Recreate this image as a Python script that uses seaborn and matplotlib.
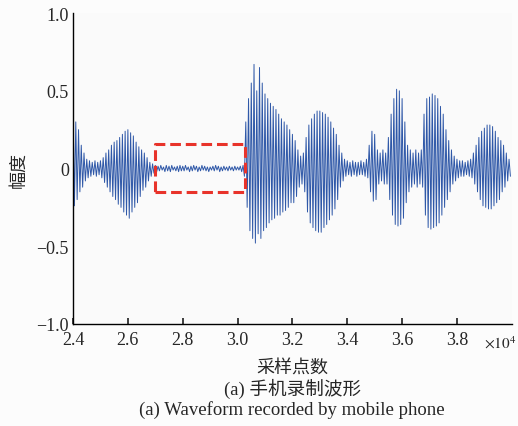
import numpy as np
import pandas as pd
import matplotlib.pyplot as plt
import seaborn as sns

# waveform: one positive and one negative peak
# per 100 samples, starting at sample 24000
start_sample = 24000
step = 100
upper_peaks = [
    0.39, 0.30, 0.25, 0.15, 0.10, 0.06, 0.05, 0.04, 0.05, 0.04,
    0.05, 0.07, 0.10, 0.12, 0.15, 0.17, 0.18, 0.20, 0.22, 0.24,
    0.25, 0.23, 0.21, 0.17, 0.14, 0.12, 0.10, 0.07, 0.04, 0.03,
    0.02, 0.015, 0.02, 0.01, 0.02, 0.015, 0.02, 0.01, 0.015, 0.02,
    0.015, 0.02, 0.01, 0.015, 0.02, 0.015, 0.01, 0.02, 0.015, 0.01,
    0.01, 0.015, 0.02, 0.015, 0.01, 0.015, 0.01, 0.015, 0.01, 0.015,
    0.01, 0.015, 0.02, 0.30, 0.45, 0.55, 0.67, 0.50, 0.65, 0.55,
    0.48, 0.45, 0.42, 0.40, 0.38, 0.35, 0.32, 0.30, 0.28, 0.25,
    0.22, 0.18, 0.12, 0.08, 0.10, 0.20, 0.28, 0.32, 0.35, 0.37,
    0.37, 0.36, 0.35, 0.33, 0.30, 0.26, 0.22, 0.15, 0.10, 0.06,
    0.05, 0.04, 0.05, 0.04, 0.04, 0.05, 0.04, 0.06, 0.15, 0.24,
    0.22, 0.12, 0.10, 0.12, 0.10, 0.20, 0.35, 0.45, 0.51, 0.50,
    0.45, 0.30, 0.15, 0.12, 0.10, 0.12, 0.10, 0.12, 0.35, 0.45,
    0.46, 0.48, 0.47, 0.45, 0.40, 0.35, 0.25, 0.18, 0.12, 0.08,
    0.06, 0.05, 0.05, 0.04, 0.05, 0.06, 0.10, 0.15, 0.20, 0.24,
    0.26, 0.28, 0.28, 0.27, 0.24, 0.20, 0.18, 0.15, 0.10, 0.06,
]
lower_peaks = [
    -0.24, -0.20, -0.15, -0.12, -0.08, -0.06, -0.05, -0.04, -0.05, -0.04,
    -0.06, -0.09, -0.12, -0.15, -0.18, -0.20, -0.23, -0.25, -0.28, -0.30,
    -0.32, -0.28, -0.25, -0.22, -0.18, -0.14, -0.12, -0.08, -0.05, -0.03,
    -0.02, -0.015, -0.01, -0.02, -0.015, -0.02, -0.01, -0.015, -0.02, -0.015,
    -0.015, -0.01, -0.02, -0.015, -0.01, -0.02, -0.015, -0.01, -0.015, -0.02,
    -0.01, -0.015, -0.01, -0.02, -0.015, -0.01, -0.015, -0.01, -0.015, -0.01,
    -0.01, -0.02, -0.05, -0.25, -0.40, -0.45, -0.48, -0.42, -0.45, -0.40,
    -0.38, -0.35, -0.33, -0.32, -0.30, -0.30, -0.28, -0.27, -0.25, -0.22,
    -0.22, -0.18, -0.12, -0.10, -0.15, -0.28, -0.35, -0.38, -0.40, -0.41,
    -0.41, -0.38, -0.36, -0.33, -0.30, -0.26, -0.20, -0.12, -0.08, -0.05,
    -0.04, -0.05, -0.04, -0.05, -0.04, -0.04, -0.05, -0.06, -0.15, -0.21,
    -0.20, -0.10, -0.08, -0.10, -0.10, -0.20, -0.30, -0.36, -0.37, -0.36,
    -0.32, -0.22, -0.15, -0.12, -0.10, -0.12, -0.10, -0.12, -0.30, -0.38,
    -0.39, -0.38, -0.37, -0.35, -0.30, -0.25, -0.20, -0.15, -0.10, -0.08,
    -0.06, -0.05, -0.05, -0.04, -0.05, -0.06, -0.10, -0.15, -0.20, -0.24,
    -0.25, -0.26, -0.26, -0.24, -0.22, -0.20, -0.15, -0.12, -0.08, -0.05,
]
# silent region marked by the red box
box_x = [27000, 30270]
box_y = [-0.15, 0.16]

x_ticks = [24000, 26000, 28000, 30000, 32000, 34000, 36000, 38000]
x_tick_labels = ['2.4', '2.6', '2.8', '3.0', '3.2', '3.4', '3.6', '3.8']
y_ticks = [-1.0, -0.5, 0, 0.5, 1.0]
y_tick_labels = ['\u22121.0', '\u22120.5', '0', '0.5', '1.0']

# interleave the peaks: positive at each sample, negative half a step later
samples = start_sample + step * np.arange(len(upper_peaks))
wave = pd.DataFrame({
    'sample': np.column_stack([samples, samples + step // 2]).ravel(),
    'amp': np.column_stack([upper_peaks, lower_peaks]).ravel(),
})

sns.set_theme(style="ticks")
plt.rcParams['font.family'] = ['Liberation Serif', 'Noto Sans CJK SC']
plt.rcParams['mathtext.fontset'] = 'stix'

fig = plt.figure(figsize=(5.18, 4.27), dpi=100, facecolor='#fcfcfc')
ax = fig.add_axes([0.141, 0.239, 0.847, 0.728])
ax.set_facecolor('#fafafa')

sns.lineplot(data=wave, x='sample', y='amp', ax=ax, color='#2f58a8',
             linewidth=0.7, sort=False)

ax.plot([box_x[0], box_x[1], box_x[1], box_x[0], box_x[0]],
        [box_y[0], box_y[0], box_y[1], box_y[1], box_y[0]],
        color='#e8332a', linestyle=(0, (3.5, 1.6)), linewidth=2.2)

ax.set_xlim(24000, 40000)
ax.set_ylim(-1.0, 1.0)
ax.set_xticks(x_ticks)
ax.set_xticklabels(x_tick_labels)
ax.set_yticks(y_ticks)
ax.set_yticklabels(y_tick_labels)
ax.tick_params(axis='x', direction='in', length=4, labelsize=13, pad=5)
ax.tick_params(axis='y', direction='in', length=0, labelsize=13, pad=3)
for s in ['top', 'right']:
    ax.spines[s].set_visible(False)
for s in ['left', 'bottom']:
    ax.spines[s].set_linewidth(1.0)
    ax.spines[s].set_color('black')

ax.set_xlabel('')
ax.set_ylabel('幅度', fontsize=13, family=['Noto Sans CJK SC'], labelpad=6)

fig.text(0.965, 0.195, r'$\times 10^4$', fontsize=11, ha='center', va='center')
fig.text(0.564, 0.137, '采样点数', fontsize=13, ha='center', va='center',
         family=['Noto Sans CJK SC'])
fig.text(0.564, 0.090, '(a) 手机录制波形', fontsize=13.4, ha='center', va='center',
         family=['Liberation Serif', 'Noto Sans CJK SC'])
fig.text(0.564, 0.040, '(a) Waveform recorded by mobile phone', fontsize=13.5,
         ha='center', va='center')

plt.savefig('out.png', dpi=100, facecolor=fig.get_facecolor())
plt.close()
